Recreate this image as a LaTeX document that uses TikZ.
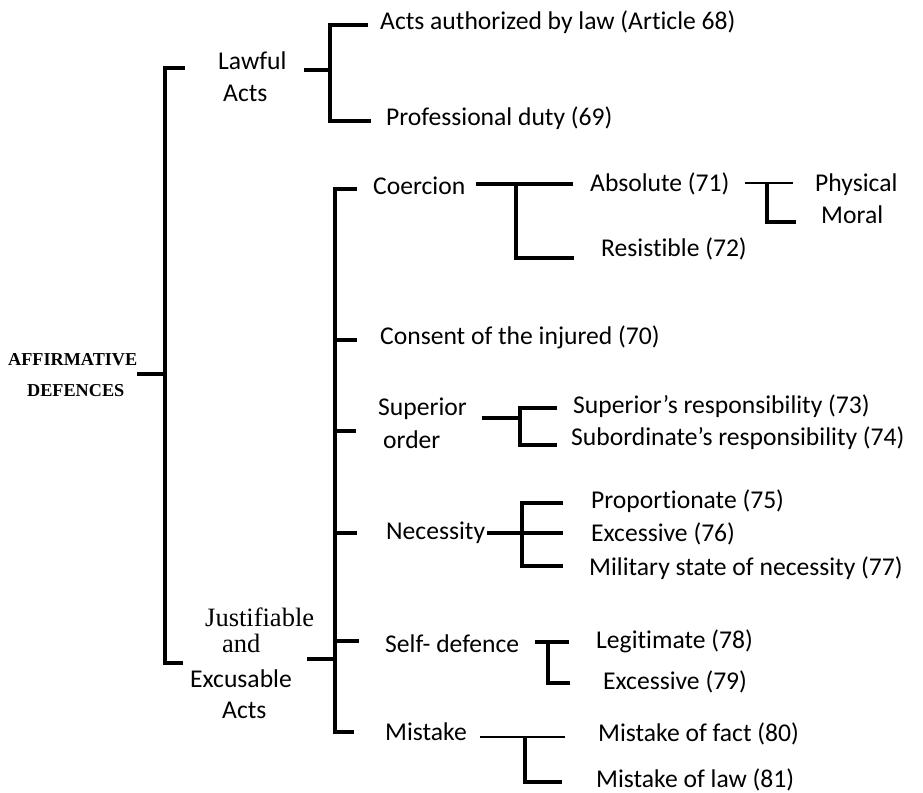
\documentclass[tikz,border=0pt]{standalone}
\usepackage{fontspec}
\setmainfont{Carlito}[Ligatures={NoCommon}]
\newfontfamily\timesfont{Liberation Serif}
\begin{document}
\begin{tikzpicture}[x=1bp,y=-1bp,
  lbl/.style={anchor=base west, inner sep=0pt, font=\fontsize{25.6bp}{30bp}\selectfont},
  tms/.style={anchor=base west, inner sep=0pt, font=\timesfont\fontsize{26.5bp}{30bp}\selectfont},
  hdr/.style={anchor=base west, inner sep=0pt, font=\timesfont\bfseries\fontsize{18.2bp}{20bp}\selectfont},
  bar/.style={line width=3.1bp, line cap=butt, line join=miter},
  thinbar/.style={line width=1.7bp, line cap=butt}]
\useasboundingbox (0,0) rectangle (923,793);

% ---------- labels ----------
\node[hdr] (aff) at (8,365) {AFFIRMATIVE};
\node[hdr] (def) at (27,396) {DEFENCES};

\node[lbl] (lawful) at (218,70) {Lawful};
\node[lbl] (lawacts) at (223,101) {Acts};
\node[lbl] (art68) at (380,30) {Acts authorized by law (Article 68)};
\node[lbl] (prof) at (386,125) {Professional duty (69)};

\node[tms] (just) at (205,626) {Justifiable};
\node[tms] (and) at (222,652) {and};
\node[lbl] (excus) at (190,687) {Excusable};
\node[lbl] (jacts) at (222,718) {Acts};

\node[lbl] (coer) at (373,194) {Coercion};
\node[lbl] (abs) at (590,191) {Absolute (71)};
\node[lbl] (phys) at (815,191) {Physical};
\node[lbl] (moral) at (821,223) {Moral};
\node[lbl] (resist) at (601,256) {Resistible (72)};

\node[lbl] (consent) at (380,344) {Consent of the injured (70)};

\node[lbl] (sup) at (378,415) {Superior};
\node[lbl] (ord) at (383,448) {order};
\node[lbl] (supr) at (573,413) {Superior’s responsibility (73)};
\node[lbl] (subr) at (571,445) {Subordinate’s responsibility (74)};

\node[lbl] (nec) at (386,539) {Necessity};
\node[lbl] (prop) at (591,508) {Proportionate (75)};
\node[lbl] (exc76) at (591,541) {Excessive (76)};
\node[lbl] (mil) at (589,575) {Military state of necessity (77)};

\node[lbl] (self) at (385,652) {Self- defence};
\node[lbl] (legit) at (596,648) {Legitimate (78)};
\node[lbl] (exc79) at (603,689) {Excessive (79)};

\node[lbl] (mist) at (385,740) {Mistake};
\node[lbl] (mfact) at (598,741) {Mistake of fact (80)};
\node[lbl] (mlaw) at (596,787) {Mistake of law (81)};

% ---------- bracket points ----------
% root bracket
\coordinate (r0) at (137,374);
\coordinate (r1) at (165,374);
\coordinate (rt) at (165,68);
\coordinate (rte) at (185,68);
\coordinate (rb) at (165,663);
\coordinate (rbe) at (183,663);
% lawful acts
\coordinate (l0) at (304,70);
\coordinate (l1) at (330,70);
\coordinate (lt) at (330,25);
\coordinate (lte) at (368,25);
\coordinate (lb) at (330,121);
\coordinate (lbe) at (371,121);
% justifiable and excusable acts
\coordinate (j0) at (307,659);
\coordinate (j1) at (335,659);
\coordinate (jt) at (335,189);
\coordinate (jte) at (357,189);
\coordinate (jb) at (335,732);
\coordinate (jbe) at (354,732);
\coordinate (jc) at (335,340);
\coordinate (jce) at (357,340);
\coordinate (js) at (335,431);
\coordinate (jse) at (356,431);
\coordinate (jn) at (335,533);
\coordinate (jne) at (357,533);
\coordinate (jd) at (335,641);
\coordinate (jde) at (359,641);
% coercion
\coordinate (c0) at (476,184);
\coordinate (c1) at (516,184);
\coordinate (ce) at (573,184);
\coordinate (cb) at (516,258);
\coordinate (cbe) at (574,258);
% absolute
\coordinate (a0) at (745,183);
\coordinate (a1) at (767,183);
\coordinate (ae) at (793,183);
\coordinate (ab) at (767,222);
\coordinate (abe) at (796,222);
% superior order
\coordinate (s0) at (482,418);
\coordinate (s1) at (520,418);
\coordinate (st) at (520,408);
\coordinate (ste) at (557,408);
\coordinate (sb) at (520,445);
\coordinate (sbe) at (557,445);
% necessity
\coordinate (n0) at (487,533);
\coordinate (n1) at (522,533);
\coordinate (ne) at (563,533);
\coordinate (nt) at (522,503);
\coordinate (nte) at (563,503);
\coordinate (nb) at (522,566);
\coordinate (nbe) at (563,566);
% self-defence
\coordinate (d0) at (535,642);
\coordinate (d1) at (548,642);
\coordinate (de) at (569,642);
\coordinate (db) at (548,683);
\coordinate (dbe) at (570,683);
% mistake
\coordinate (m0) at (480,737);
\coordinate (m1) at (525,737);
\coordinate (me) at (565,737);
\coordinate (mb) at (525,782);
\coordinate (mbe) at (562,782);

% ---------- brackets ----------
\draw[bar] (r0) -- (r1);
\draw[bar] (rte) -- (rt) -- (rb) -- (rbe);

\draw[bar] (l0) -- (l1);
\draw[bar] (lte) -- (lt) -- (lb) -- (lbe);

\draw[bar] (j0) -- (j1);
\draw[bar] (jte) -- (jt) -- (jb) -- (jbe);
\draw[bar] (jc) -- (jce);
\draw[bar] (js) -- (jse);
\draw[bar] (jn) -- (jne);
\draw[bar] (jd) -- (jde);

\draw[bar] (c0) -- (ce);
\draw[bar] (c1) -- (cb) -- (cbe);

\draw[thinbar] (a0) -- (ae);
\draw[bar] (a1) -- (ab) -- (abe);

\draw[bar] (s0) -- (s1);
\draw[bar] (ste) -- (st) -- (sb) -- (sbe);

\draw[bar] (n0) -- (ne);
\draw[bar] (nte) -- (nt) -- (nb) -- (nbe);

\draw[bar] (d0) -- (de);
\draw[bar] (d1) -- (db) -- (dbe);

\draw[thinbar] (m0) -- (me);
\draw[bar] (m1) -- (mb) -- (mbe);
\end{tikzpicture}
\end{document}
